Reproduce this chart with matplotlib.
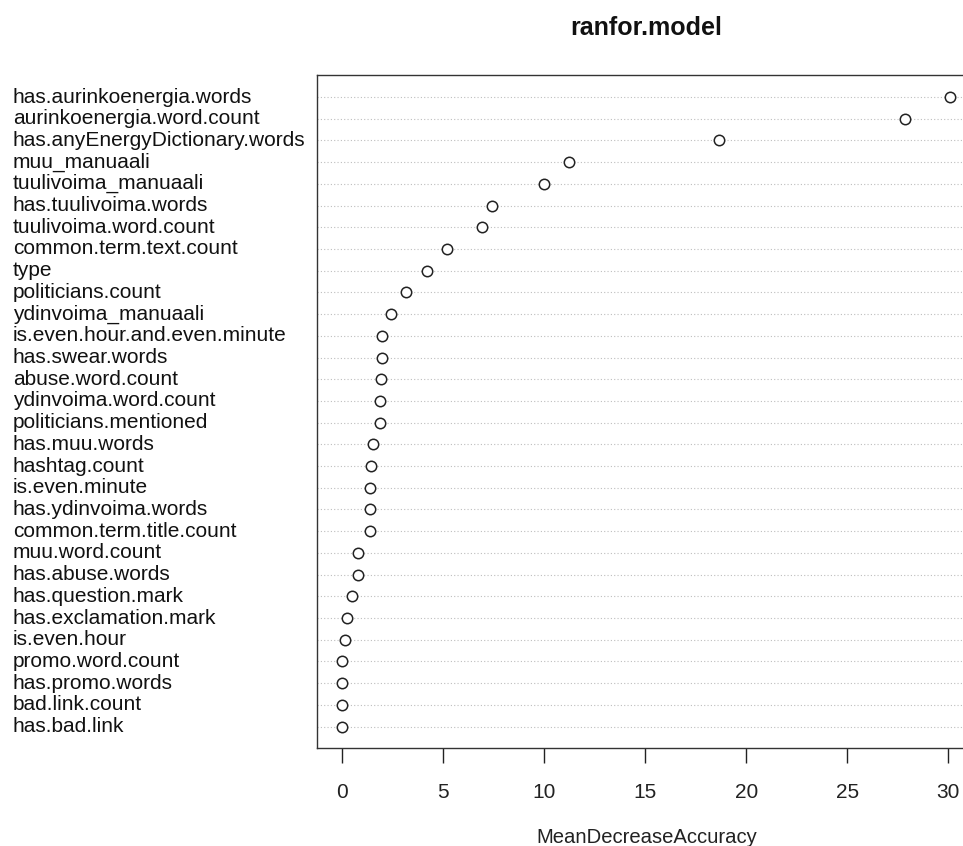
import matplotlib
matplotlib.use('Agg')
import matplotlib.pyplot as plt
import matplotlib.transforms as mtransforms

plt.rcParams['font.family'] = ['Liberation Sans', 'DejaVu Sans']

# variable names, top to bottom as in the plot
features = ['has.aurinkoenergia.words', 'aurinkoenergia.word.count', 'has.anyEnergyDictionary.words',
            'muu_manuaali', 'tuulivoima_manuaali', 'has.tuulivoima.words', 'tuulivoima.word.count',
            'common.term.text.count', 'type', 'politicians.count', 'ydinvoima_manuaali',
            'is.even.hour.and.even.minute', 'has.swear.words', 'abuse.word.count',
            'ydinvoima.word.count', 'politicians.mentioned', 'has.muu.words', 'hashtag.count',
            'is.even.minute', 'has.ydinvoima.words', 'common.term.title.count', 'muu.word.count',
            'has.abuse.words', 'has.question.mark', 'has.exclamation.mark', 'is.even.hour',
            'promo.word.count', 'has.promo.words', 'bad.link.count', 'has.bad.link']
# MeanDecreaseAccuracy
accuracy = [30.08, 27.86, 18.65, 11.23, 10.0, 7.44, 6.90, 5.20, 4.22, 3.15, 2.43,
            1.96, 1.95, 1.90, 1.86, 1.85, 1.55, 1.43, 1.40, 1.40, 1.40, 0.78,
            0.77, 0.51, 0.22, 0.16, 0.0, 0.0, 0.0, 0.0]
xticks = [0, 5, 10, 15, 20, 25, 30]

n = len(features)
ypos = list(range(n, 0, -1))

fig = plt.figure(figsize=(9.63, 8.46), dpi=100)
ax = fig.add_axes([0.3295, 0.1155, 0.6825, 0.7955])

# dotted guide lines like R dotchart
for y in ypos:
    ax.axhline(y, color='#bebebe', linestyle=(0, (1, 2)), linewidth=0.8, zorder=1)

ax.plot(accuracy, ypos, 'o', mfc='white', mec='#222222', mew=1.1, ms=7.5, zorder=3)

ax.set_xlim(-1.23, 31.3)
ax.set_ylim(0, n + 1)
ax.set_xticks(xticks)
ax.set_xticklabels([str(t) for t in xticks])
ax.set_yticks([])
ax.tick_params(axis='x', length=11, width=1, pad=14, labelsize=15, colors='#222222')
for s in ['top', 'right']:
    ax.spines[s].set_visible(False)
for s in ['left', 'bottom']:
    ax.spines[s].set_color('#333333')
ax.spines['left'].set_linewidth(1)
ax.spines['bottom'].set_linewidth(1)
# top border of the box
ax.plot([0, 1.2], [1, 1], transform=ax.transAxes, color='#333333', lw=1, clip_on=False)

# left-aligned labels in the margin
trans = mtransforms.blended_transform_factory(fig.transFigure, ax.transData)
for name, y in zip(features, ypos):
    ax.text(13 / 963, y, name, transform=trans, ha='left', va='center', fontsize=15,
            color='#111111', clip_on=False)

fig.text(0.6715, 1 - 35 / 846, 'ranfor.model', ha='center', va='baseline', fontsize=18,
         fontweight='bold', color='#111111')
fig.text(0.6715, 1 - 837 / 846, 'MeanDecreaseAccuracy', ha='center', va='center', fontsize=14.6,
         color='#222222')

fig.savefig('out.png', dpi=100)
